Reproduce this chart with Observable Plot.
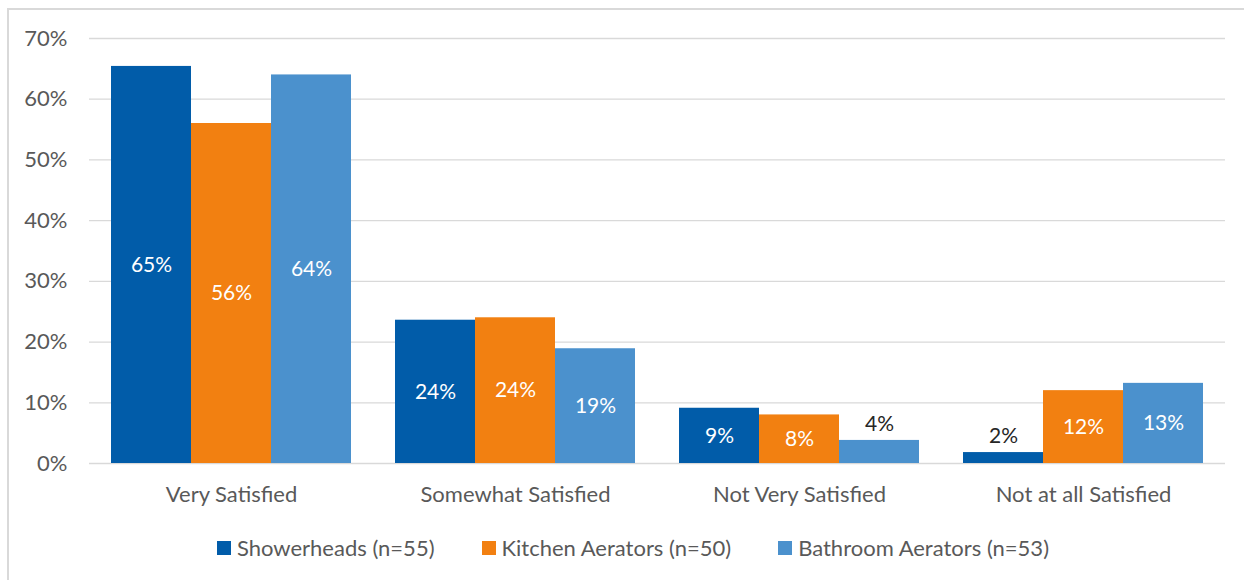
<!DOCTYPE html>
<html>
<head>
<meta charset="utf-8">
<script src="https://cdn.jsdelivr.net/npm/d3@7"></script>
<script src="https://cdn.jsdelivr.net/npm/@observablehq/plot@0.6"></script>
<style>
  html, body { margin: 0; padding: 0; background: #fff; width: 1244px; height: 580px; overflow: hidden; }
  #frame { position: absolute; left: 7px; top: 8px; width: 1240px; height: 580px;
           border-top: 2px solid #d9d9d9; border-left: 2px solid #d9d9d9; box-sizing: border-box; }
  #chart { position: absolute; left: 0; top: 0; }
  #legend { position: absolute; left: 217px; top: 533px; display: flex; justify-content: flex-start;
            font-family: Lato, "Open Sans", sans-serif; font-size: 22px; line-height: 30px; color: #595959; }
  .item { display: flex; align-items: center; margin-right: 47px; }
  .sw { width: 14px; height: 14px; margin-right: 6px; }
</style>
</head>
<body>
<div id="frame"></div>
<div id="chart"></div>
<div id="legend"></div>
<script>
const categories = ["Very Satisfied", "Somewhat Satisfied", "Not Very Satisfied", "Not at all Satisfied"];
const series = ["Showerheads (n=55)", "Kitchen Aerators (n=50)", "Bathroom Aerators (n=53)"];
const showerheads = [0.654, 0.236, 0.091, 0.018];
const kitchen = [0.56, 0.24, 0.08, 0.12];
const bathroom = [0.64, 0.189, 0.038, 0.132];
const yTicks = [0, 0.1, 0.2, 0.3, 0.4, 0.5, 0.6, 0.7];
const colors = ["#015CA9", "#F28011", "#4B91CD"];

const seriesValues = [showerheads, kitchen, bathroom];
const data = categories.flatMap((c, i) => series.map((s, j) => ({category: c, series: s, value: seriesValues[j][i]})));
const pct = d => Math.round(d.value * 100) + "%";

const chart = Plot.plot({
  width: 1244,
  height: 520,
  marginLeft: 88,
  marginRight: 18,
  marginTop: 38,
  marginBottom: 57,
  style: {fontFamily: "Lato, 'Open Sans', sans-serif", fontSize: "22px", color: "#595959", background: "transparent"},
  facet: {data: data, x: "category"},
  fx: {domain: categories, padding: 0, axis: "bottom", tickSize: 0, tickPadding: 23, label: null},
  x: {domain: series, paddingInner: 0, paddingOuter: 0.256, axis: null},
  y: {domain: [0, 0.7], ticks: yTicks, tickFormat: d => Math.round(d * 100) + "%", label: null, tickSize: 0, tickPadding: 22},
  color: {domain: series, range: colors},
  marks: [
    Plot.ruleY(yTicks, {stroke: "#d9d9d9", strokeWidth: 1.3}),
    Plot.barY(data, {x: "series", y: "value", fill: "series"}),
    Plot.text(data, {filter: d => d.value >= 0.05, x: "series", y: d => d.value / 2, text: pct, fill: "white", fontSize: 21}),
    Plot.text(data, {filter: d => d.value < 0.05, x: "series", y: "value", dy: -16, text: pct, fill: "#262626", fontSize: 21})
  ]
});
document.getElementById("chart").appendChild(chart);

const legend = document.getElementById("legend");
series.forEach((s, j) => {
  const item = document.createElement("div");
  item.className = "item";
  const sw = document.createElement("div");
  sw.className = "sw";
  sw.style.background = colors[j];
  const t = document.createElement("span");
  t.textContent = s;
  item.appendChild(sw);
  item.appendChild(t);
  legend.appendChild(item);
});
</script>
</body>
</html>
